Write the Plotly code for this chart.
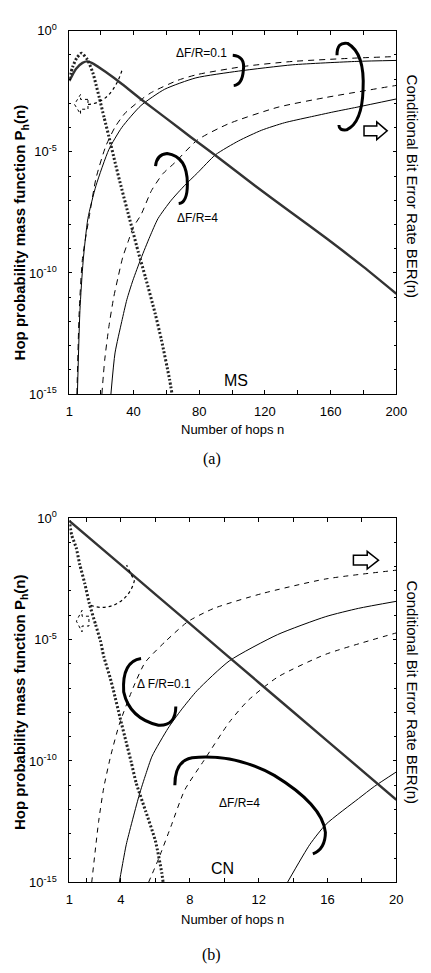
import numpy as np
import plotly.graph_objects as go

W, H = 431, 973

# ---------------- Panel (a): MS ----------------
# Hop probability mass function (log10 values)
a_ph_solid_n = [1, 5, 9, 12, 16, 23, 33, 45, 60, 75, 90, 114, 135, 157, 180, 200]
a_ph_solid_lg = [-2.08, -1.58, -1.33, -1.27, -1.38, -1.7, -2.2, -2.85, -3.62, -4.4, -5.15, -6.4, -7.45, -8.55, -9.75, -10.86]
a_ph_dash_n = [1, 3, 5.5, 8.4, 12, 15.3, 17.2, 19.2, 22.1, 25.1, 28.9, 32.9, 36.8, 39.7, 43, 47.4, 53.2, 57, 62, 63.5]
a_ph_dash_lg = [-2.0, -1.5, -1.13, -0.93, -1.2, -1.74, -2.22, -2.76, -3.57, -4.38, -5.46, -6.54, -7.55, -8.3, -9.15, -10.2, -11.67, -12.75, -14.4, -15]
# Conditional BER
a_b01_solid_n = [5.9, 7.45, 9.4, 12.3, 17.2, 25.1, 32.9, 44.6, 59, 78, 104, 137, 176, 200]
a_b01_solid_lg = [-15, -11.54, -9.51, -7.75, -6.4, -4.9, -4.0, -3.09, -2.42, -1.95, -1.67, -1.41, -1.27, -1.23]
a_b01_dash_n = [5.6, 7.0, 9.0, 13.3, 17.2, 23.1, 28.9, 35, 44.6, 51, 67, 79, 108, 137, 176, 200]
a_b01_dash_lg = [-15, -11.6, -9.4, -7.6, -6.1, -4.78, -3.97, -3.4, -2.85, -2.55, -2.05, -1.81, -1.47, -1.27, -1.13, -1.07]
a_b4_dash_n = [20.8, 22.5, 25.1, 28, 30.9, 33.5, 36.8, 40, 44.6, 51, 58, 65, 79, 98, 128, 157, 200]
a_b4_dash_lg = [-15, -13.6, -12.2, -11.0, -10.1, -9.35, -8.7, -8.1, -7.6, -6.6, -5.9, -5.46, -4.51, -3.84, -3.16, -2.76, -2.26]
a_b4_solid_n = [26.3, 28.8, 32.9, 36, 39.7, 44.6, 50, 55, 63, 71, 79, 90, 104, 118, 132, 147, 162, 176, 200]
a_b4_solid_lg = [-15, -13.3, -12.0, -11.1, -10.3, -9.4, -8.5, -7.75, -7.0, -6.4, -5.87, -5.12, -4.55, -4.11, -3.8, -3.57, -3.35, -3.16, -2.82]

# ---------------- Panel (b): CN ----------------
b_ph_solid_n = [1, 4, 8, 12, 16, 20]
b_ph_solid_lg = [-0.12, -1.93, -4.35, -6.77, -9.18, -11.6]
b_ph_dash_n = [1, 1.13, 1.4, 1.6, 1.9, 2.16, 2.53, 2.81, 3.0, 3.38, 3.56, 3.94, 4.31, 4.6, 4.88, 5.44, 6.0, 6.37, 6.45]
b_ph_dash_lg = [-0.1, -0.69, -1.23, -1.9, -2.71, -3.52, -4.4, -5.07, -5.7, -6.6, -7.09, -8.2, -9.25, -10.06, -10.9, -12.08, -13.29, -14.6, -15]
b_b01_dash_n = [2.3, 2.7, 3.0, 3.4, 3.9, 4.7, 5.4, 6.6, 7.9, 9.4, 12.2, 15.9, 20]
b_b01_dash_lg = [-15, -12.5, -11.1, -9.8, -8.5, -7.0, -5.95, -5.07, -4.26, -3.72, -3.11, -2.51, -2.15]
b_b01_solid_n = [3.9, 4.13, 4.31, 5.06, 5.44, 5.81, 6.74, 7.5, 8.43, 10.3, 13.1, 15.9, 17.8, 20]
b_b01_solid_lg = [-15, -14.1, -13.43, -11.4, -10.55, -9.8, -8.65, -7.9, -7.1, -5.88, -4.8, -4.06, -3.72, -3.43]
b_b4_dash_n = [5.6, 6.2, 6.9, 7.7, 8.8, 10.3, 11.4, 13.1, 15.9, 20]
b_b4_dash_lg = [-15, -14.0, -12.7, -11.2, -10.0, -8.4, -7.5, -6.55, -5.61, -4.73]
b_b4_solid_n = [13.67, 14.98, 15.92, 17.8, 18.72, 20]
b_b4_solid_lg = [-15, -13.43, -12.6, -11.55, -11.05, -10.45]

# tick labels
a_xticks = [1, 40, 80, 120, 160, 200]
a_xminor = [20, 60, 100, 140, 180]
b_xticks = [1, 4, 8, 12, 16, 20]
b_xminor = [2, 6, 10, 14, 18]
y_major = [0, -5, -10, -15]
y_minor = [e for e in range(0, -16, -1) if e % 5 != 0]
y_text = ['10<sup>%d</sup>' % e for e in y_major]

FONT = "Liberation Sans, Arial, sans-serif"

def px(x):
    return x / W

def py(y):
    return 1 - y / H

fig = go.Figure()

def add_line(n, lg, xa, ya, dash='solid', width=1.0, color='black'):
    fig.add_trace(go.Scatter(x=n, y=np.power(10.0, lg), mode='lines', xaxis=xa, yaxis=ya,
                             line=dict(color=color, width=width, dash=dash, shape='spline', smoothing=0.6),
                             showlegend=False, hoverinfo='skip'))

# panel a traces
add_line(a_b01_solid_n, a_b01_solid_lg, 'x', 'y')
add_line(a_b01_dash_n, a_b01_dash_lg, 'x', 'y', dash='6px,5px')
add_line(a_b4_solid_n, a_b4_solid_lg, 'x', 'y')
add_line(a_b4_dash_n, a_b4_dash_lg, 'x', 'y', dash='6px,5px')
add_line(a_ph_solid_n, a_ph_solid_lg, 'x', 'y', width=2.4, color='#333')
add_line(a_ph_dash_n, a_ph_dash_lg, 'x', 'y', dash='2px,2px', width=3, color='#222')
# panel b traces
add_line(b_b01_solid_n, b_b01_solid_lg, 'x2', 'y2')
add_line(b_b01_dash_n, b_b01_dash_lg, 'x2', 'y2', dash='5px,5px')
add_line(b_b4_solid_n, b_b4_solid_lg, 'x2', 'y2')
add_line(b_b4_dash_n, b_b4_dash_lg, 'x2', 'y2', dash='5px,5px')
add_line(b_ph_solid_n, b_ph_solid_lg, 'x2', 'y2', width=2.4, color='#333')
add_line(b_ph_dash_n, b_ph_dash_lg, 'x2', 'y2', dash='2px,2px', width=3, color='#222')

xdom = [px(67.7), px(406.5)]
common_x = dict(showgrid=False, zeroline=False, showline=True, linecolor='black', linewidth=1,
                mirror='ticks', ticks='inside', ticklen=4, tickcolor='black',
                tickfont=dict(family=FONT, size=13, color='black'), ticklabelstandoff=5)
common_y = dict(type='log', range=[-15, 0], showgrid=False, zeroline=False, showline=True,
                linecolor='black', linewidth=1, mirror='ticks', ticks='inside', ticklen=3,
                tickcolor='black', tickvals=[10.0 ** e for e in y_major], ticktext=y_text,
                minor=dict(tickvals=[10.0 ** e for e in y_minor], ticks='inside', ticklen=2,
                           tickcolor='black', showgrid=False),
                tickfont=dict(family=FONT, size=13, color='black'), ticklabelstandoff=9)

fig.update_layout(
    width=W, height=H, margin=dict(l=0, r=0, t=0, b=0),
    paper_bgcolor='white', plot_bgcolor='white',
    xaxis=dict(domain=xdom, range=[1, 200], tickvals=a_xticks, ticktext=[str(v) for v in a_xticks],
               minor=dict(tickvals=a_xminor, ticks='inside', ticklen=4, tickcolor='black', showgrid=False),
               anchor='y', **common_x),
    yaxis=dict(domain=[py(392), py(22)], anchor='x', **common_y),
    xaxis2=dict(domain=xdom, range=[1, 20], tickvals=b_xticks, ticktext=[str(v) for v in b_xticks],
                minor=dict(tickvals=b_xminor, ticks='inside', ticklen=4, tickcolor='black', showgrid=False),
                anchor='y2', **common_x),
    yaxis2=dict(domain=[py(889), py(518)], anchor='x2', **common_y),
)

ann = []
def text(x, y, s, size=13, angle=0, family=FONT, xanchor='center'):
    ann.append(dict(x=px(x), y=py(y), xref='paper', yref='paper', text=s, showarrow=False,
                    textangle=angle, xanchor=xanchor, yanchor='middle',
                    font=dict(family=family, size=size, color='black')))

# axis titles
text(237, 428, 'Number of hops n', 13)
text(237, 927, 'Number of hops n', 13)
text(17, 227, '<b>Hop probability mass function P<sub>h</sub>(n)</b>', 15, angle=-90)
text(17, 705, '<b>Hop probability mass function P<sub>h</sub>(n)</b>', 15, angle=-90)
text(423, 180, 'Conditional Bit Error Rate BER(n)', 15, angle=90)
text(423, 695, 'Conditional Bit Error Rate BER(n)', 15, angle=90)
# captions
text(215, 458, '(a)', 16, family='Liberation Serif, Times New Roman, serif')
text(215, 963, '(b)', 16, family='Liberation Serif, Times New Roman, serif')
# in-plot labels
text(205, 45, '\u0394F/R=0.1', 12)
text(200, 213, '\u0394F/R=4', 12)
text(240, 378, 'MS', 16)
text(166, 687, '\u0394 F/R=0.1', 12)
text(244, 808, '\u0394F/R=4', 12)
text(226, 875, 'CN', 16)
fig.update_layout(annotations=ann)

def path(pts_cmd):
    s = ''
    for cmd, pts in pts_cmd:
        s += cmd + ' ' + ' '.join('%.5f,%.5f' % (px(x), py(y)) for x, y in pts) + ' '
    return s.strip()

shapes = []
def add_path(p, width=3, dash='solid', fill=None):
    d = dict(type='path', xref='paper', yref='paper', path=p,
             line=dict(color='black', width=width, dash=dash))
    if fill:
        d['fillcolor'] = fill
    shapes.append(d)

# panel a brackets
add_path(path([('M', [(237, 47)]), ('Q', [(250, 48), (248, 62)]), ('Q', [(247, 77), (238, 78)])]))
add_path(path([('M', [(345, 47)]), ('Q', [(345, 33), (356, 35)]), ('Q', [(374, 45), (372, 82)]),
               ('Q', [(371, 116), (355, 123)]), ('Q', [(347, 124), (347, 118)])]))
add_path(path([('M', [(157, 160)]), ('Q', [(158, 148), (169, 147)]), ('Q', [(190, 150), (190, 178)]),
               ('Q', [(190, 197), (181, 198)])]))
# panel b brackets
add_path(path([('M', [(142, 661)]), ('Q', [(122, 664), (124, 695)]), ('Q', [(130, 722), (160, 729)]),
               ('Q', [(178, 730), (178, 710)])]))
add_path(path([('M', [(177, 790)]), ('Q', [(177, 765), (195, 762)]), ('Q', [(240, 758), (280, 780)]),
               ('Q', [(330, 810), (333, 838)]), ('Q', [(333, 855), (320, 860)])]))

# block arrows
def block_arrow(x0, x1, yc, h, hh, dash='solid', width=1.5, left=False):
    if not left:
        xm = x0 + (x1 - x0) * 0.55
        pts = [(x0, yc - h), (xm, yc - h), (xm, yc - hh), (x1, yc), (xm, yc + hh), (xm, yc + h), (x0, yc + h)]
    else:
        xm = x1 - (x1 - x0) * 0.55
        pts = [(x1, yc - h), (xm, yc - h), (xm, yc - hh), (x0, yc), (xm, yc + hh), (xm, yc + h), (x1, yc + h)]
    p = 'M ' + ' L '.join('%.5f,%.5f' % (px(x), py(y)) for x, y in pts) + ' Z'
    add_path(p, width=width, dash=dash, fill='white')

block_arrow(373, 397, 124, 5, 9)
block_arrow(362, 388, 561, 5, 9)
block_arrow(73, 87, 97, 5, 10, dash='dot', width=1, left=True)
block_arrow(75, 88, 623, 5, 11, dash='dot', width=1, left=True)

# dotted arcs grouping the probability curves
add_path(path([('M', [(87, 97)]), ('Q', [(112, 96), (123, 60)])]), width=1.2, dash='dot')
add_path(path([('M', [(90, 607)]), ('C', [(110, 614), (130, 602), (135, 582)]), ('L', [(127, 566)])]), width=1.2, dash='dot')

fig.update_layout(shapes=shapes)
fig.write_html('out.html')
